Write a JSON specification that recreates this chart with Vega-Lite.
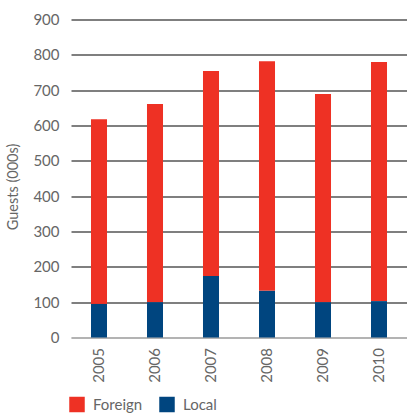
{
  "$schema": "https://vega.github.io/schema/vega-lite/v6.json",
  "autosize": "none",
  "width": 336,
  "height": 318,
  "padding": {"left": 71, "top": 19.5, "right": 0, "bottom": 77.5},
  "background": "white",
  "config": {
    "font": "Lato",
    "view": {"stroke": null}
  },
  "data": {
    "values": [
      {"year": "2005", "type": "Foreign", "guests": 523},
      {"year": "2005", "type": "Local", "guests": 95},
      {"year": "2006", "type": "Foreign", "guests": 561},
      {"year": "2006", "type": "Local", "guests": 100},
      {"year": "2007", "type": "Foreign", "guests": 580},
      {"year": "2007", "type": "Local", "guests": 174},
      {"year": "2008", "type": "Foreign", "guests": 650},
      {"year": "2008", "type": "Local", "guests": 132},
      {"year": "2009", "type": "Foreign", "guests": 589},
      {"year": "2009", "type": "Local", "guests": 100},
      {"year": "2010", "type": "Foreign", "guests": 677},
      {"year": "2010", "type": "Local", "guests": 103}
    ]
  },
  "mark": {"type": "bar"},
  "encoding": {
    "x": {
      "field": "year",
      "type": "ordinal",
      "scale": {"paddingInner": 0.714, "paddingOuter": 0.357},
      "axis": {
        "title": null,
        "labelAngle": -90,
        "labelAlign": "right",
        "labelBaseline": "middle",
        "labelFontSize": 15,
        "labelColor": "#666666",
        "labelPadding": 10,
        "ticks": false,
        "domainColor": "#9a9a9a",
        "domainWidth": 1.2
      }
    },
    "y": {
      "field": "guests",
      "type": "quantitative",
      "stack": "zero",
      "scale": {"domain": [0, 900], "nice": false},
      "axis": {
        "title": "Guests (000s)",
        "titleFontSize": 14.5,
        "titleFontWeight": "normal",
        "titleColor": "#666666",
        "titlePadding": 12,
        "titleY": 167,
        "values": [0, 100, 200, 300, 400, 500, 600, 700, 800, 900],
        "labelFontSize": 15,
        "labelColor": "#666666",
        "labelPadding": 12,
        "ticks": false,
        "domain": false,
        "grid": true,
        "gridColor": {"condition": {"test": "datum.value === 0", "value": "#9a9a9a"}, "value": "#000000"},
        "gridWidth": 1.2,
        "gridOpacity": 1
      }
    },
    "color": {
      "field": "type",
      "type": "nominal",
      "scale": {"domain": ["Foreign", "Local"], "range": ["#ee3124", "#00457f"]},
      "legend": {
        "title": null,
        "orient": "none",
        "direction": "horizontal",
        "legendX": -2,
        "legendY": 377,
        "symbolType": "square",
        "symbolSize": 240,
        "symbolStrokeWidth": 0,
        "symbolOpacity": 1,
        "labelFontSize": 15,
        "labelColor": "#666666",
        "labelOffset": 8,
        "columnPadding": 16
      }
    },
    "order": {"field": "type", "sort": "descending"}
  }
}
